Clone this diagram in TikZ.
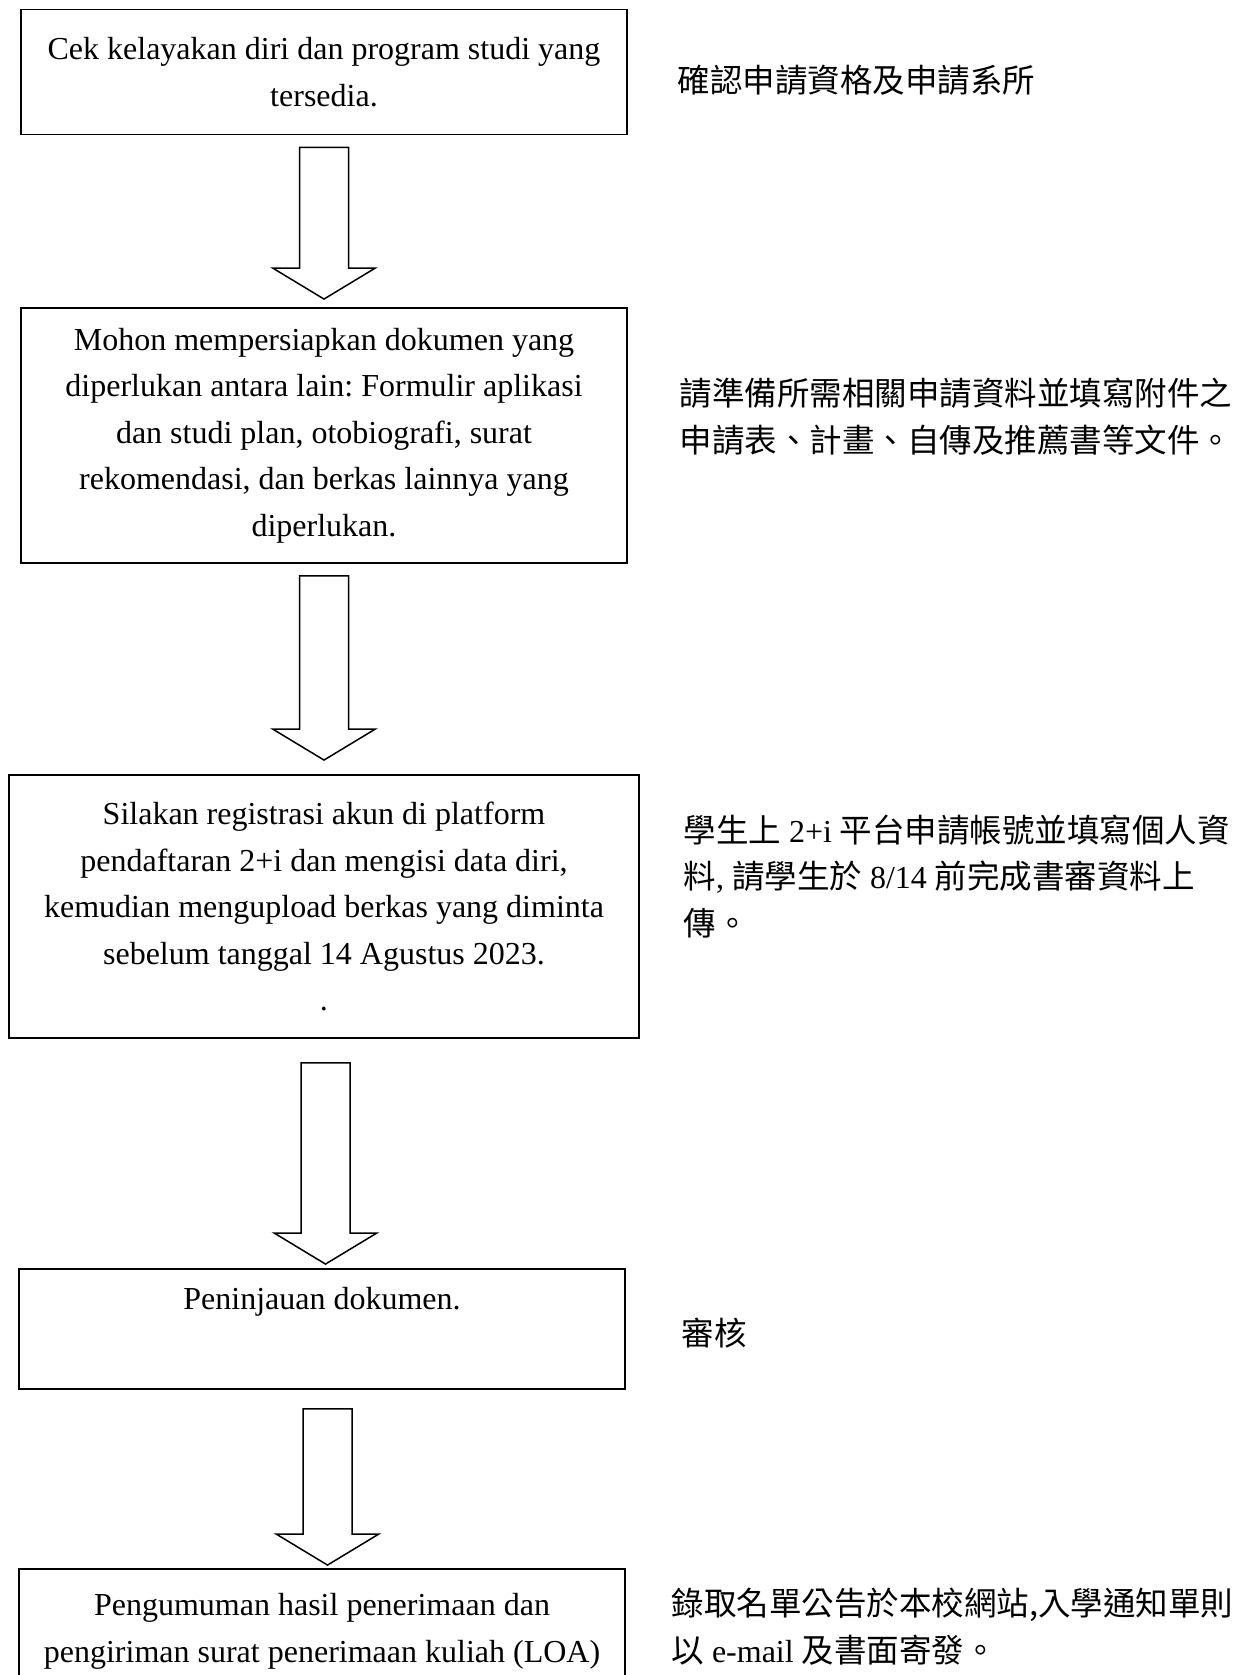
\documentclass[tikz,border=0pt]{standalone}
\usepackage{fontspec}
\setmainfont{Liberation Serif}
\newfontfamily\cjk{Noto Sans CJK TC}
\usetikzlibrary{calc}
\frenchspacing

\newcommand{\zh}[1]{{\cjk\fontsize{13pt}{18.6pt}\selectfont #1}}
\newcommand{\flowarrow}[5][0pt]{%
  \draw[arrowline] let \p1=($(#2.south)+(#1,0)$), \p2=(#3.north) in
    (\x1-9.8pt,\y1-#4) -- (\x1+9.8pt,\y1-#4) -- (\x1+9.8pt,\y2+#5+12.4pt)
    -- (\x1+20.5pt,\y2+#5+12.4pt) -- (\x1,\y2+#5) -- (\x1-20.5pt,\y2+#5+12.4pt)
    -- (\x1-9.8pt,\y2+#5+12.4pt) -- cycle;}

\begin{document}
\begin{tikzpicture}[x=0.4pt, y=-0.4pt,
  stepbox/.style={draw, line width=0.75pt, align=center, inner sep=0pt,
    font={\fontsize{12.8pt}{18.6pt}\selectfont}},
  note/.style={anchor=base west, align=left, inner sep=0pt,
    font={\fontsize{12.8pt}{18.6pt}\selectfont}},
  arrowline/.style={line width=0.6pt, line join=miter}]
  \useasboundingbox (0,0) rectangle (1235,1675);
  \clip (0,0) rectangle (1235,1675);
  % steps
  \node[stepbox, minimum width=242.4pt, minimum height=50pt] (b1) at (324,72) {Cek kelayakan diri dan program studi yang\\tersedia.};
  \node[stepbox, minimum width=242.4pt, minimum height=102pt] (b2) at (324,435.5) {Mohon mempersiapkan dokumen yang\\diperlukan antara lain: Formulir aplikasi\\dan studi plan, otobiografi, surat\\rekomendasi, dan berkas lainnya yang\\diperlukan.};
  \node[stepbox, minimum width=252pt, minimum height=105.2pt] (b3) at (324,906.5) {Silakan registrasi akun di platform\\pendaftaran 2+i dan mengisi data diri,\\kemudian mengupload berkas yang diminta\\sebelum tanggal 14 Agustus 2023.\\.};
  \node[stepbox, minimum width=242.4pt, minimum height=48pt] (b4) at (322,1329) {Peninjauan dokumen.\\\strut};
  \node[stepbox, minimum width=242.4pt, minimum height=50pt] (b5) at (322,1631.5) {Pengumuman hasil penerimaan dan\\pengiriman surat penerimaan kuliah (LOA)};
  % notes (placed at the baseline of the last line)
  \node[note] (n1) at (677,92) {\zh{確認申請資格及申請系所}};
  \node[note] (n2) at (679,452) {\zh{請準備所需相關申請資料並填寫附件之}\\\zh{申請表、計畫、自傳及推薦書等文件。}};
  \node[note] (n3) at (683,935) {\zh{學生上} 2+i \zh{平台申請帳號並填寫個人資}\\\zh{料}, \zh{請學生於} 8/14 \zh{前完成書審資料上}\\\zh{傳。}};
  \node[note] (n4) at (681,1345) {\zh{審核}};
  \node[note] (n5) at (671,1662) {\zh{錄取名單公告於本校網站,入學通知單則}\\\zh{以} e-mail \zh{及書面寄發。}};
  % arrows
  \flowarrow{b1}{b2}{4.8pt}{3.2pt}
  \flowarrow{b2}{b3}{4.8pt}{5.6pt}
  \flowarrow[0.6pt]{b3}{b4}{9.6pt}{1.6pt}
  \flowarrow[2.2pt]{b4}{b5}{7.6pt}{1.2pt}
\end{tikzpicture}
\end{document}
